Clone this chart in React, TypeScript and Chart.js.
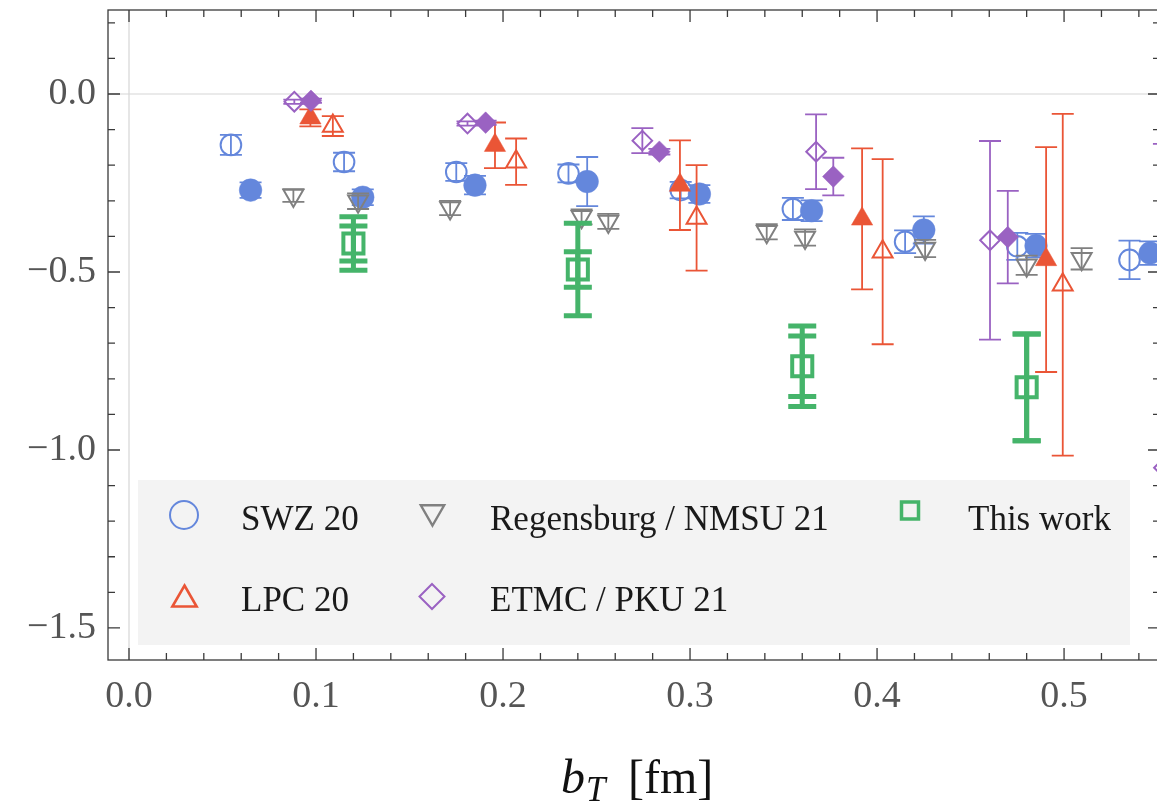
import React, { useEffect, useRef } from 'react';
import { Chart, registerables } from 'chart.js';

Chart.register(...registerables);

const FONT = "'Liberation Serif', 'Times New Roman', serif";

// ---------- data ----------
const swzOpenX = [0.0545, 0.115, 0.175, 0.235, 0.295, 0.355, 0.415, 0.475, 0.535];
const swzOpenY = [-0.143, -0.191, -0.219, -0.223, -0.27, -0.323, -0.415, -0.428, -0.466];
const swzOpenErr = [0.028, 0.026, 0.025, 0.025, 0.023, 0.031, 0.032, 0.038, 0.054];

const swzFillX = [0.065, 0.125, 0.185, 0.245, 0.305, 0.365, 0.425, 0.485, 0.546];
const swzFillY = [-0.27, -0.29, -0.256, -0.246, -0.281, -0.328, -0.382, -0.426, -0.447];
const swzFillErr = [0.022, 0.022, 0.026, 0.069, 0.025, 0.029, 0.038, 0.033, 0.033];

const lpcOpenX = [0.109, 0.207, 0.3035, 0.403, 0.4993];
const lpcOpenY = [-0.09, -0.19, -0.348, -0.443, -0.536];
const lpcOpenErr = [0.028, 0.065, 0.148, 0.26, 0.48];

const lpcFillX = [0.097, 0.1957, 0.2946, 0.392, 0.4904];
const lpcFillY = [-0.067, -0.144, -0.256, -0.351, -0.465];
const lpcFillErr = [0.024, 0.064, 0.126, 0.198, 0.316];

const regX = [0.0879, 0.1225, 0.1717, 0.242, 0.2563, 0.341, 0.3615, 0.4257, 0.48, 0.5094];
const regY = [-0.285, -0.301, -0.32, -0.345, -0.358, -0.387, -0.403, -0.434, -0.481, -0.463];
const regErr = [0.018, 0.022, 0.02, 0.021, 0.021, 0.0215, 0.023, 0.024, 0.027, 0.03];

const etmcOpenX = [0.0884, 0.181, 0.2745, 0.3674, 0.4604, 0.5534];
const etmcOpenY = [-0.0216, -0.083, -0.131, -0.162, -0.411, -1.05];
const etmcOpenErr = [0.006, 0.006, 0.035, 0.105, 0.279, 0.91];

const etmcFillX = [0.0973, 0.1907, 0.2836, 0.3766, 0.4699];
const etmcFillY = [-0.019, -0.0805, -0.162, -0.232, -0.402];
const etmcFillErr = [0.006, 0.006, 0.008, 0.053, 0.13];

const thisX = [0.12, 0.24, 0.36, 0.48];
const thisY = [-0.42, -0.493, -0.765, -0.824];
const thisErrInner = [0.049, 0.05, 0.085, 0.15];
const thisErrOuter = [0.075, 0.13, 0.113, 0.15];

const xTickValues = [0, 0.1, 0.2, 0.3, 0.4, 0.5];
const xTickLabels = ['0.0', '0.1', '0.2', '0.3', '0.4', '0.5'];
const yTickValues = [-1.5, -1.0, -0.5, 0];
const yTickLabels = ['\u22121.5', '\u22121.0', '\u22120.5', '0.0'];

const legendLabels = ['SWZ 20', 'Regensburg / NMSU 21', 'This work', 'LPC 20', 'ETMC / PKU 21'];

// ---------- colours ----------
const BLUE = '#6487dc';
const RED = '#ea5536';
const PURPLE = '#9a62c2';
const GRAY = '#808080';
const GREEN = '#45b46a';

const CANVAS_W = 1180;
const CANVAS_H = 807;

const X_MIN = -0.01123;
const X_MAX = 0.5513;
const Y_MIN = -1.59;
const Y_MAX = 0.236;

export default function App() {
  const ref = useRef<HTMLCanvasElement>(null);

  useEffect(() => {
    const canvas = ref.current;
    if (!canvas) return;

    const pts = (xs: number[], ys: number[]) => xs.map((x, i) => ({ x, y: ys[i] }));

    const mk = (label: string, xs: number[], ys: number[], color: string, style: any, radius: number, filled: boolean, order: number, rotation = 0, bw = 2) => ({
      label,
      data: pts(xs, ys),
      showLine: false,
      pointStyle: style,
      pointRadius: radius,
      pointHoverRadius: radius,
      pointRotation: rotation,
      pointBackgroundColor: filled ? color : 'rgba(0,0,0,0)',
      pointBorderColor: color,
      pointBorderWidth: filled ? 0.5 : bw,
      borderColor: color,
      backgroundColor: color,
      order,
    });

    const datasets = [
      mk('SWZ 20', swzOpenX, swzOpenY, BLUE, 'circle', 10.3, false, 9),
      mk('SWZ 20 (b)', swzFillX, swzFillY, BLUE, 'circle', 11.3, true, 8),
      mk('LPC 20', lpcOpenX, lpcOpenY, RED, 'triangle', 11.5, false, 7),
      mk('LPC 20 (b)', lpcFillX, lpcFillY, RED, 'triangle', 12.3, true, 6),
      mk('Regensburg / NMSU 21', regX, regY, GRAY, 'triangle', 11.5, false, 5, 180),
      mk('ETMC / PKU 21', etmcOpenX, etmcOpenY, PURPLE, 'rectRot', 9.8, false, 4),
      mk('ETMC / PKU 21 (b)', etmcFillX, etmcFillY, PURPLE, 'rectRot', 10.8, true, 3),
      mk('This work', thisX, thisY, GREEN, 'rect', 14.2, false, 2, 0, 4),
    ];

    const errSpecs: any[] = [
      { xs: swzOpenX, ys: swzOpenY, color: BLUE, levels: [{ err: swzOpenErr, lw: 1.8, cap: 11 }] },
      { xs: swzFillX, ys: swzFillY, color: BLUE, levels: [{ err: swzFillErr, lw: 1.8, cap: 11 }] },
      { xs: lpcOpenX, ys: lpcOpenY, color: RED, levels: [{ err: lpcOpenErr, lw: 1.8, cap: 11 }] },
      { xs: lpcFillX, ys: lpcFillY, color: RED, levels: [{ err: lpcFillErr, lw: 1.8, cap: 11 }] },
      { xs: regX, ys: regY, color: GRAY, levels: [{ err: regErr, lw: 1.8, cap: 11 }] },
      { xs: etmcOpenX, ys: etmcOpenY, color: PURPLE, levels: [{ err: etmcOpenErr, lw: 1.8, cap: 11 }] },
      { xs: etmcFillX, ys: etmcFillY, color: PURPLE, levels: [{ err: etmcFillErr, lw: 1.8, cap: 11 }] },
      { xs: thisX, ys: thisY, color: GREEN, levels: [{ err: thisErrOuter, lw: 5, cap: 14 }, { err: thisErrInner, lw: 5, cap: 14 }] },
    ];

    const errorBars = {
      id: 'errorBars',
      beforeDatasetDraw(chart: any, args: any) {
        const spec = errSpecs[args.index];
        if (!spec) return;
        const { ctx, chartArea: a } = chart;
        const sx = chart.scales.x;
        const sy = chart.scales.y;
        ctx.save();
        ctx.beginPath();
        ctx.rect(a.left, a.top, a.right - a.left, a.bottom - a.top);
        ctx.clip();
        ctx.strokeStyle = spec.color;
        ctx.lineCap = 'butt';
        for (const lev of spec.levels) {
          ctx.lineWidth = lev.lw;
          spec.xs.forEach((x: number, i: number) => {
            const px = sx.getPixelForValue(x);
            const p1 = sy.getPixelForValue(spec.ys[i] + lev.err[i]);
            const p2 = sy.getPixelForValue(spec.ys[i] - lev.err[i]);
            ctx.beginPath();
            ctx.moveTo(px, p1);
            ctx.lineTo(px, p2);
            ctx.moveTo(px - lev.cap, p1);
            ctx.lineTo(px + lev.cap, p1);
            ctx.moveTo(px - lev.cap, p2);
            ctx.lineTo(px + lev.cap, p2);
            ctx.stroke();
          });
        }
        ctx.restore();
      },
    };

    const zeroLines = {
      id: 'zeroLines',
      beforeDatasetsDraw(chart: any) {
        const { ctx, chartArea: a } = chart;
        const px = chart.scales.x.getPixelForValue(0);
        const py = chart.scales.y.getPixelForValue(0);
        ctx.save();
        ctx.strokeStyle = '#d6d6d6';
        ctx.lineWidth = 1.2;
        ctx.beginPath();
        ctx.moveTo(px, a.top);
        ctx.lineTo(px, a.bottom);
        ctx.moveTo(a.left, py);
        ctx.lineTo(a.right, py);
        ctx.stroke();
        ctx.restore();
      },
    };

    const drawMarker = (ctx: CanvasRenderingContext2D, kind: string, x: number, y: number, r: number, color: string, lw: number) => {
      ctx.save();
      ctx.strokeStyle = color;
      ctx.lineWidth = lw;
      ctx.lineJoin = 'miter';
      ctx.beginPath();
      if (kind === 'circle') {
        ctx.arc(x, y, r, 0, Math.PI * 2);
      } else if (kind === 'tri' || kind === 'itri') {
        const s = kind === 'tri' ? 1 : -1;
        for (let k = 0; k < 3; k++) {
          const ang = (k * 2 * Math.PI) / 3;
          const vx = x + Math.sin(ang) * r;
          const vy = y - s * Math.cos(ang) * r;
          if (k === 0) ctx.moveTo(vx, vy);
          else ctx.lineTo(vx, vy);
        }
        ctx.closePath();
      } else if (kind === 'diamond') {
        ctx.moveTo(x, y - r);
        ctx.lineTo(x + r, y);
        ctx.lineTo(x, y + r);
        ctx.lineTo(x - r, y);
        ctx.closePath();
      } else if (kind === 'square') {
        ctx.rect(x - r, y - r, 2 * r, 2 * r);
      }
      ctx.stroke();
      ctx.restore();
    };

    const legendAndFrame = {
      id: 'legendAndFrame',
      afterDraw(chart: any) {
        const { ctx, chartArea: a } = chart;
        const sx = chart.scales.x;
        const sy = chart.scales.y;
        // legend box
        ctx.save();
        ctx.fillStyle = '#f3f3f3';
        ctx.fillRect(138, 480, 992, 165);
        drawMarker(ctx, 'circle', 184, 515, 14, BLUE, 2);
        drawMarker(ctx, 'itri', 432.5, 512, 13.5, GRAY, 2.4);
        drawMarker(ctx, 'square', 910, 510.5, 8.5, GREEN, 3.5);
        drawMarker(ctx, 'tri', 184.5, 599.5, 14, RED, 2.6);
        drawMarker(ctx, 'diamond', 432, 596.5, 12.5, PURPLE, 2);
        ctx.fillStyle = '#1a1a1a';
        ctx.font = `35px ${FONT}`;
        ctx.textBaseline = 'alphabetic';
        ctx.textAlign = 'left';
        ctx.fillText(legendLabels[0], 241, 530);
        ctx.fillText(legendLabels[1], 490, 530);
        ctx.fillText(legendLabels[2], 968, 530);
        ctx.fillText(legendLabels[3], 241, 611);
        ctx.fillText(legendLabels[4], 490, 611);
        ctx.restore();

        // frame
        ctx.save();
        ctx.strokeStyle = '#3a3a3a';
        ctx.lineWidth = 1.3;
        ctx.strokeRect(a.left, a.top, a.right - a.left, a.bottom - a.top);
        ctx.beginPath();
        for (let k = 0; k <= 27; k++) {
          const v = k * 0.02;
          const px = sx.getPixelForValue(v);
          const len = k % 5 === 0 ? 12 : 7;
          ctx.moveTo(px, a.bottom);
          ctx.lineTo(px, a.bottom - len);
          ctx.moveTo(px, a.top);
          ctx.lineTo(px, a.top + len);
        }
        for (let k = -15; k <= 2; k++) {
          const v = k * 0.1;
          const py = sy.getPixelForValue(v);
          const len = k % 5 === 0 ? 12 : 7;
          ctx.moveTo(a.left, py);
          ctx.lineTo(a.left + len, py);
          ctx.moveTo(a.right, py);
          ctx.lineTo(a.right - len, py);
        }
        ctx.stroke();
        ctx.restore();

        // axis title b_T [fm]
        ctx.save();
        ctx.fillStyle = '#111';
        ctx.textBaseline = 'alphabetic';
        ctx.textAlign = 'left';
        ctx.font = `italic 48px ${FONT}`;
        const bx = 561;
        ctx.fillText('b', bx, 793);
        const bw = ctx.measureText('b').width;
        ctx.font = `italic 35px ${FONT}`;
        ctx.fillText('T', bx + bw + 1, 801);
        ctx.font = `48px ${FONT}`;
        ctx.fillText('[fm]', 628, 793);
        ctx.restore();
      },
    };

    const zeroPad = (s: any) => {
      s.paddingLeft = 0;
      s.paddingRight = 0;
      s.paddingTop = 0;
      s.paddingBottom = 0;
    };

    const chart = new Chart(canvas, {
      type: 'scatter',
      data: { datasets: datasets as any },
      options: {
        responsive: false,
        maintainAspectRatio: false,
        animation: false,
        events: [],
        layout: { autoPadding: false, padding: { top: 10, right: CANVAS_W - 1160, left: 0, bottom: 0 } },
        plugins: { legend: { display: false }, tooltip: { enabled: false } },
        scales: {
          x: {
            type: 'linear',
            min: X_MIN,
            max: X_MAX,
            grid: { display: false, drawTicks: false },
            border: { display: false },
            ticks: {
              font: { family: FONT, size: 38 },
              color: '#555',
              padding: 14,
              maxRotation: 0,
              callback: (v: any) => {
                const i = xTickValues.findIndex((t) => Math.abs(t - v) < 1e-9);
                return i >= 0 ? xTickLabels[i] : '';
              },
            },
            afterBuildTicks: (s: any) => {
              s.ticks = xTickValues.map((v) => ({ value: v }));
            },
            afterFit: (s: any) => {
              s.height = CANVAS_H - 660;
              zeroPad(s);
            },
          },
          y: {
            type: 'linear',
            min: Y_MIN,
            max: Y_MAX,
            grid: { display: false, drawTicks: false },
            border: { display: false },
            ticks: {
              font: { family: FONT, size: 38, lineHeight: 0.4 },
              color: '#555',
              padding: 12,
              callback: (v: any) => {
                const i = yTickValues.findIndex((t) => Math.abs(t - v) < 1e-9);
                return i >= 0 ? yTickLabels[i] : '';
              },
            },
            afterBuildTicks: (s: any) => {
              s.ticks = yTickValues.map((v) => ({ value: v }));
            },
            afterFit: (s: any) => {
              s.width = 108;
              zeroPad(s);
            },
          },
        },
      },
      plugins: [zeroLines, errorBars, legendAndFrame],
    });

    return () => chart.destroy();
  }, []);

  return (
    <div style={{ position: 'fixed', left: 0, top: 0, width: 1157, height: 807, overflow: 'hidden', background: '#fff' }}>
      <canvas ref={ref} width={CANVAS_W} height={CANVAS_H} style={{ display: 'block', width: CANVAS_W, height: CANVAS_H }} />
    </div>
  );
}
